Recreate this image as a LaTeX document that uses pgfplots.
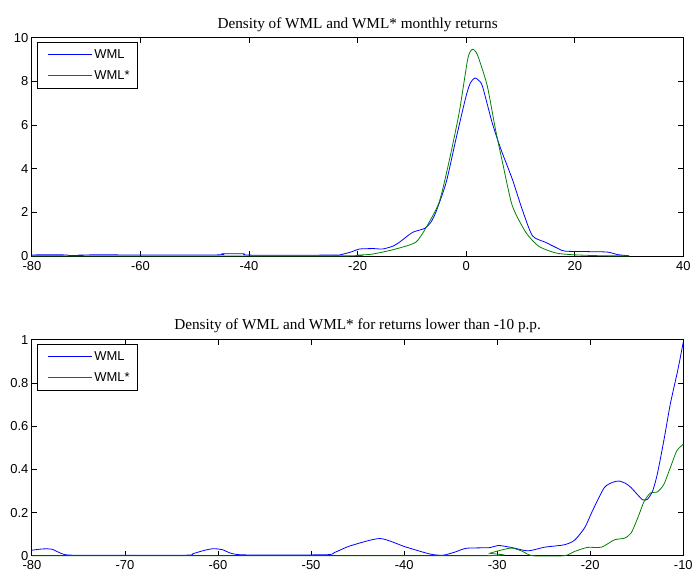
\documentclass[border=0pt]{standalone}
\usepackage{pgfplots}
\pgfplotsset{compat=1.18}
\usepackage{fontspec}
\setmainfont{Liberation Sans}
\newfontfamily\titlefont{Liberation Serif}
\definecolor{mblue}{rgb}{0,0,1}
\definecolor{mgreen}{rgb}{0,0.5,0}
\pgfplotsset{
  mstyle/.style={
    scale only axis, width=654pt, clip=false, set layers,
    axis line style={black, line width=0.9pt},
    tick style={black, line width=0.8pt},
    tick align=inside, major tick length=5pt,
    xtick pos=both, ytick pos=both,
    /pgf/number format/assume math mode=true,
    tick label style={font=\fontsize{13}{15}\selectfont},
    xticklabel style={yshift=-1.5pt},
    title style={font=\titlefont\fontsize{15.3}{17}\selectfont, yshift=-3pt},
    legend style={at={(0.008,0.98)}, anchor=north west, draw=black, line width=0.9pt,
      font=\fontsize{13}{15}\selectfont, inner xsep=6pt, inner ysep=5pt,
      row sep=7pt, cells={anchor=west}},
    every axis plot/.append style={line width=0.8pt, mark=none},
  },
  bluelegend/.style={legend image code/.code={\node[inner sep=0pt, anchor=west] at (0pt,0pt) {\hspace{5pt}\textcolor{mblue}{\rule[-0.45pt]{44pt}{0.9pt}}\hspace{2pt}};}},
  greenlegend/.style={legend image code/.code={\node[inner sep=0pt, anchor=west] at (0pt,0pt) {\hspace{5pt}\textcolor{mgreen}{\rule[-0.45pt]{44pt}{0.9pt}}\hspace{2pt}};}},
}
\begin{document}
\begin{tikzpicture}[x=1pt,y=1pt]
\begin{axis}[mstyle, at={(32pt,322pt)}, anchor=south west, height=219pt,
  xmin=-80, xmax=40, ymin=0, ymax=10,
  xtick={-80,-60,...,40}, ytick={0,2,...,10},
  title={Density of WML and WML* monthly returns}]
\addlegendimage{bluelegend}
\addlegendentry{WML}
\addlegendimage{greenlegend}
\addlegendentry{WML*}
\addplot[draw=mblue, smooth, tension=0.4, forget plot] coordinates {
(-80,0.05) (-74,0.05) (-73,0.02) (-71,0.02) (-70,0.05) (-46,0.05) (-45,0.1) (-41,0.1) (-40,0.04)
(-25,0.04) (-23.3,0.05) (-21,0.2) (-19.7,0.32) (-17,0.34) (-15.4,0.32) (-13.5,0.45) (-12.3,0.63) (-9.9,1.08)
(-7.7,1.26) (-6.5,1.55) (-5.6,2.0) (-3.7,3.36) (-1.9,5.34) (-0.03,7.32) (0.8,7.95) (1.6,8.16) (2.3,8.05) (3.0,7.78)
(4.8,6.1) (6.4,4.89) (8.5,3.52) (10.3,2.15) (12.2,0.93) (14.6,0.63) (17.1,0.32)
(18.3,0.22) (22.6,0.2) (26,0.18) (28,0.06) (30,0.01)
};
\addplot[draw=mgreen, smooth, tension=0.4, forget plot] coordinates {
(-80,0.005) (-23.3,0.005) (-20,0.04) (-17.2,0.09) (-13.0,0.32) (-9.3,0.63) (-7.4,1.3) (-5.0,2.45)
(-3.2,4.28) (-1.3,6.56) (0.2,8.92) (0.7,9.35) (1.2,9.48) (1.8,9.35) (2.4,9.0) (3.9,7.78) (5.4,5.8) (6.7,4.28)
(8.5,2.3) (11.0,1.08) (13.4,0.44) (16.5,0.14) (19.5,0.06) (25,0.01) (30,0.005)
};
\end{axis}
\begin{axis}[mstyle, at={(32pt,21pt)}, anchor=south west, height=217pt,
  xmin=-80, xmax=-10, ymin=0, ymax=1,
  xtick={-80,-70,...,-10}, ytick={0,0.2,...,1},
  yticklabels={0,0.2,0.4,0.6,0.8,1},
  title={Density of WML and WML* for returns lower than -10 p.p.}]
\addlegendimage{bluelegend}
\addlegendentry{WML}
\addlegendimage{greenlegend}
\addlegendentry{WML*}
\addplot[draw=mblue, smooth, tension=0.4, forget plot] coordinates {
(-80,0.026) (-78.8,0.032) (-77.8,0.03) (-76.4,0.005) (-73.7,0.003) (-63.5,0.003) (-62.7,0.01) (-61.5,0.025) (-60.5,0.033) (-59.5,0.028)
(-57.6,0.005) (-48.5,0.005) (-47.5,0.015) (-45.8,0.046) (-42.6,0.08) (-39.9,0.042) (-37.2,0.008)
(-35.8,0.003) (-34.5,0.018) (-33.3,0.035) (-30.8,0.038) (-29.9,0.048) (-28.5,0.039)
(-26.7,0.023) (-24.9,0.04) (-22.8,0.051) (-21.7,0.072) (-20.6,0.13) (-19.7,0.214)
(-18.5,0.315) (-17.6,0.34) (-16.9,0.346) (-16.2,0.335) (-15.6,0.315) (-14.4,0.26) (-13.85,0.262) (-13.3,0.3)
(-12.8,0.377) (-12.1,0.532) (-11.4,0.702) (-10.6,0.858) (-10,0.99)
};
\addplot[draw=mgreen, smooth, tension=0.4, forget plot] coordinates {
(-80,0.0005) (-32,0.0005) (-30.8,0.012) (-29.9,0.023) (-28.5,0.036) (-27.4,0.023) (-26.2,0.0005)
(-22.8,0.0005) (-21.7,0.02) (-20.3,0.039) (-18.8,0.04) (-17.4,0.074) (-16.3,0.082)
(-15.6,0.106) (-14.9,0.175) (-14.2,0.253) (-13.5,0.292) (-12.8,0.295) (-12.1,0.33)
(-11.4,0.408) (-10.7,0.486) (-10,0.516)
};
\end{axis}
\useasboundingbox (0,0) rectangle (696,579);
\end{tikzpicture}
\end{document}
